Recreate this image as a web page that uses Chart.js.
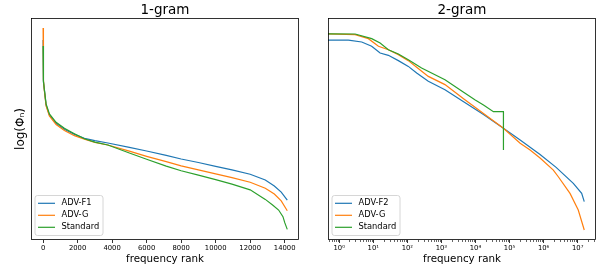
<!DOCTYPE html>
<html>
<head>
<meta charset="utf-8">
<script src="https://cdn.jsdelivr.net/npm/chart.js@4.4.1/dist/chart.umd.min.js"></script>
<style>
  html, body { margin: 0; padding: 0; background: #fff; }
  #wrap { position: relative; width: 602px; height: 268px; }
  .panel { position: absolute; top: 0; height: 268px; }
  #p1 { left: 0; width: 301px; }
  #p2 { left: 301px; width: 301px; }
</style>
</head>
<body>
<div id="wrap">
  <div class="panel" id="p1"><canvas id="c1"></canvas></div>
  <div class="panel" id="p2"><canvas id="c2"></canvas></div>
</div>
<script>
// ---- 1-gram (linear rank axis) ----
const ranks1 = [1, 10, 30, 75, 174, 365, 754, 1235, 1815, 2395, 3000, 3753, 5000, 6000, 7135, 8000, 9000, 10000, 10945, 12000, 12877, 13400, 13800, 14150];
const advF1 = [90.1, 76.6, 71.2, 67.6, 60.8, 56.3, 52.6, 49.9, 47.6, 45.8, 44.8, 43.7, 41.7, 40.1, 38.1, 36.5, 34.9, 33.2, 31.6, 29.6, 27.0, 24.3, 21.6, 18.0];
const advG1 = [95.5, 78.8, 72.1, 67.1, 60.4, 55.9, 52.0, 49.3, 47.0, 45.4, 44.0, 42.8, 40.0, 37.7, 35.3, 33.4, 31.6, 29.8, 28.1, 26.0, 23.3, 20.7, 17.6, 13.2];
const ranksStd1 = [1, 10, 30, 75, 174, 365, 754, 1235, 1815, 2395, 3000, 3753, 5000, 6000, 7135, 8000, 9000, 10000, 10945, 12000, 12877, 13300, 13649, 13900, 14010, 14150];
const std1 = [87.4, 77.5, 71.6, 67.8, 61.3, 56.8, 53.0, 50.3, 47.9, 45.6, 44.1, 42.8, 39.2, 36.4, 33.3, 31.2, 29.2, 27.2, 25.2, 22.6, 18.3, 15.8, 13.5, 10.5, 7.7, 4.8];
const xTicks1 = [0, 2000, 4000, 6000, 8000, 10000, 12000, 14000];

// ---- 2-gram (log rank axis) ----
const ranksF2 = [0.4, 1.87, 4.59, 9.0, 15.9, 27.8, 54.6, 107, 188, 413, 1274, 4375, 17200, 66200, 205000, 787000, 2330000, 7450000, 13100000, 15600000];
const advF2 = [90.0, 90.0, 89.2, 87.3, 84.2, 83.2, 80.8, 78.2, 75.2, 71.5, 67.7, 62.4, 56.5, 50.3, 45.0, 38.5, 32.7, 25.5, 21.0, 17.3];
const ranksG2 = [0.4, 2.94, 7.2, 14.2, 27.8, 54.6, 107, 188, 413, 1274, 4375, 17200, 66200, 205000, 401000, 787000, 1930000, 2700000, 5960000, 10400000, 15600000];
const advG2 = [92.9, 92.5, 90.7, 87.3, 85.7, 83.5, 80.8, 77.8, 73.7, 70.0, 63.7, 57.0, 50.3, 43.6, 40.5, 36.9, 31.5, 28.5, 21.0, 13.5, 4.5];
const ranksStd2 = [0.4, 2.94, 9.0, 15.9, 27.8, 54.6, 107, 262, 1274, 4375, 9840, 17200, 33700, 66200, 66300];
const std2 = [92.9, 92.8, 90.7, 88.7, 85.7, 83.8, 81.2, 77.5, 72.2, 66.7, 63.1, 60.8, 57.8, 57.8, 40.5];
const xTicks2 = [1, 10, 100, 1000, 10000, 100000, 1000000, 10000000];
const xTickLabels2 = ['10⁰', '10¹', '10²', '10³', '10⁴', '10⁵', '10⁶', '10⁷'];

const BLUE = '#1f77b4', ORANGE = '#ff7f0e', GREEN = '#2ca02c';
const FONT = '"DejaVu Sans", sans-serif';

const pts = (xs, ys) => xs.map((x, i) => ({ x, y: ys[i] }));

function series(label, xs, ys, color, order) {
  return {
    label, data: pts(xs, ys), borderColor: color, backgroundColor: color,
    borderWidth: 1.2, pointRadius: 0, tension: 0, fill: false, order, clip: 0,
  };
}

// frame, title, minor ticks and legend drawn on top of the chart area
const decor = {
  id: 'decor',
  afterDraw(chart, args, opts) {
    const { ctx, chartArea: a } = chart;
    ctx.save();

    if (opts.minor) {
      const sx = chart.scales.x;
      ctx.strokeStyle = '#000';
      ctx.lineWidth = 0.6;
      for (let e = -1; e <= 8; e++) {
        for (let k = 2; k <= 9; k++) {
          const v = k * Math.pow(10, e);
          if (v < sx.min || v > sx.max) continue;
          const px = Math.round(sx.getPixelForValue(v)) + 0.5;
          ctx.beginPath();
          ctx.moveTo(px, a.bottom);
          ctx.lineTo(px, a.bottom + 2);
          ctx.stroke();
        }
      }
    }

    ctx.strokeStyle = '#000';
    ctx.lineWidth = 0.8;
    ctx.strokeRect(a.left + 0.5, a.top + 0.5, a.right - a.left - 1, a.bottom - a.top - 1);

    ctx.fillStyle = '#000';
    ctx.font = '13.5px ' + FONT;
    ctx.textAlign = 'center';
    ctx.textBaseline = 'middle';
    ctx.fillText(opts.title, (a.left + a.right) / 2, 10);

    // legend box, lower left
    const bx = a.left + 4, by = a.bottom - 44.5, bw = 68, bh = 40, r = 2.5;
    ctx.beginPath();
    ctx.moveTo(bx + r, by);
    ctx.arcTo(bx + bw, by, bx + bw, by + bh, r);
    ctx.arcTo(bx + bw, by + bh, bx, by + bh, r);
    ctx.arcTo(bx, by + bh, bx, by, r);
    ctx.arcTo(bx, by, bx + bw, by, r);
    ctx.closePath();
    ctx.fillStyle = 'rgba(255,255,255,0.8)';
    ctx.fill();
    ctx.strokeStyle = '#cccccc';
    ctx.lineWidth = 0.8;
    ctx.stroke();

    ctx.font = '8.3px ' + FONT;
    ctx.textAlign = 'left';
    chart.data.datasets.forEach((ds, i) => {
      const y = by + 7.8 + i * 12;
      ctx.strokeStyle = ds.borderColor;
      ctx.lineWidth = 1.2;
      ctx.beginPath();
      ctx.moveTo(bx + 3, y);
      ctx.lineTo(bx + 20, y);
      ctx.stroke();
      ctx.fillStyle = '#000';
      ctx.fillText(ds.label, bx + 26.5, y);
    });
    ctx.restore();
  },
};

function makeChart(id, datasets, xScale, yTitle, yWidth, padRight, title, minor) {
  return new Chart(document.getElementById(id), {
    type: 'line',
    data: { datasets },
    plugins: [decor],
    options: {
      responsive: true,
      maintainAspectRatio: false,
      animation: false,
      layout: { padding: { top: 18, left: 0, right: padRight, bottom: 0 } },
      plugins: {
        legend: { display: false },
        tooltip: { enabled: false },
        decor: { title, minor },
      },
      scales: {
        x: Object.assign({
          position: 'bottom',
          border: { display: false },
          grid: { display: true, drawOnChartArea: false, drawTicks: true, tickLength: 3, tickColor: '#000', tickWidth: 0.8 },
          title: { display: true, text: 'frequency rank', color: '#000', font: { family: FONT, size: 10.3 }, padding: { top: 0, bottom: 2.8 } },
          afterFit: (s) => { s.height = 28; },
        }, xScale),
        y: {
          type: 'linear',
          min: 0,
          max: 100,
          border: { display: false },
          grid: { display: false },
          ticks: { display: false },
          afterBuildTicks: (s) => { s.ticks = []; },
          title: { display: !!yTitle, text: yTitle, color: '#000', font: { family: FONT, size: 12 }, padding: { top: 13.5, bottom: 0 } },
          afterFit: (s) => { s.width = yWidth; },
        },
      },
    },
  });
}

makeChart('c1', [
  series('ADV-F1', ranks1, advF1, BLUE, 2),
  series('ADV-G', ranks1, advG1, ORANGE, 1),
  series('Standard', ranksStd1, std1, GREEN, 0),
], {
  type: 'linear',
  min: -700,
  max: 14830,
  afterBuildTicks: (s) => { s.ticks = xTicks1.map(v => ({ value: v })); },
  ticks: { color: '#000', font: { family: FONT, size: 6.8 }, padding: 1, maxRotation: 0, autoSkip: false, callback: (v) => String(v) },
}, 'log(Φₙ)', 31, 2, '1-gram', false);

makeChart('c2', [
  series('ADV-F2', ranksF2, advF2, BLUE, 2),
  series('ADV-G', ranksG2, advG2, ORANGE, 1),
  series('Standard', ranksStd2, std2, GREEN, 0),
], {
  type: 'logarithmic',
  min: 0.47,
  max: 3.45e7,
  afterBuildTicks: (s) => { s.ticks = xTicks2.map(v => ({ value: v, major: true })); },
  ticks: { color: '#000', font: { family: FONT, size: 6.8 }, padding: 1, maxRotation: 0, autoSkip: false,
    callback: (v) => { const i = xTicks2.indexOf(v); return i >= 0 ? xTickLabels2[i] : ''; } },
}, '', 27, 6, '2-gram', true);
</script>
</body>
</html>
